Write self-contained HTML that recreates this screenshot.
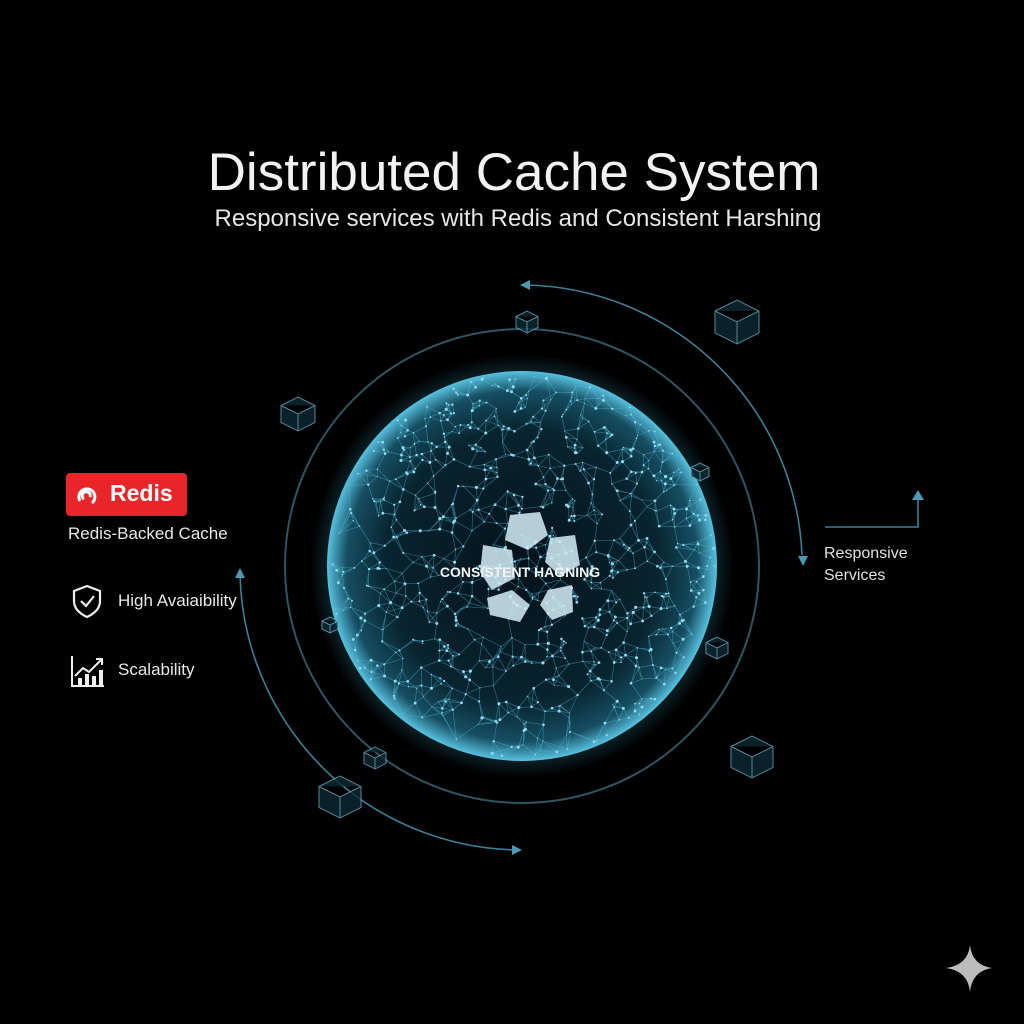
<!DOCTYPE html>
<html><head><meta charset="utf-8"><style>
body{margin:0;background:#000;width:1024px;height:1024px;overflow:hidden;font-family:"Liberation Sans",sans-serif;color:#eee}
.t{position:absolute;left:0;width:1024px;text-align:center}
</style></head><body>
<div class="t" style="top:142px;font-size:53px;color:#f2f2f2;left:2px">Distributed Cache System</div>
<div class="t" style="top:205px;font-size:24px;left:6px;color:#e6e6e6">Responsive services with Redis and Consistent Harshing</div>
<svg id="s" width="1024" height="1024" style="position:absolute;left:0;top:0">
<defs>
<radialGradient id="g" cx="50%" cy="50%" r="50%">
<stop offset="0" stop-color="#04121a"/><stop offset="0.7" stop-color="#08242f"/><stop offset="0.9" stop-color="#164e62"/><stop offset="1" stop-color="#58c2e0"/>
</radialGradient>
<radialGradient id="glow" cx="50%" cy="50%" r="50%"><stop offset="0.86" stop-color="#3fb4d4" stop-opacity="0.3"/><stop offset="1" stop-color="#3fb4d4" stop-opacity="0"/></radialGradient>
</defs>
<circle cx="522" cy="566" r="212" fill="url(#glow)"/>
<circle cx="522" cy="566" r="195" fill="url(#g)"/>
<g id="net" stroke="#4fb8d6" stroke-width="0.7" stroke-opacity="0.5"></g>
<g id="dots" fill="#8fdcf2"></g>
<circle cx="522" cy="566" r="237" fill="none" stroke="#2f5562" stroke-width="2"/>
<g fill="none" stroke="#3b7f96" stroke-width="1.6">
<path d="M525 285 A282 282 0 0 1 802 555"/>
<path d="M240 575 A282 282 0 0 0 518 850"/>
<path d="M825 527 H918 V497"/>
</g>
<g fill="#4a9ab4">
<polygon points="520,285 530,280 530,290"/>
<polygon points="798,556 808,556 803,566"/>
<polygon points="235,578 245,578 240,568"/>
<polygon points="512,845 512,855 522,850"/>
<polygon points="912,500 924,500 918,490"/>
</g>
<g fill="#d4eef7" opacity="0.85">
<polygon points="510,515 540,512 548,535 528,550 505,540"/>
<polygon points="550,538 575,535 580,565 560,576 545,562"/>
<polygon points="483,545 512,550 515,578 492,590 480,572"/>
<polygon points="548,590 572,585 573,612 552,620 540,605"/>
<polygon points="487,598 512,590 530,605 520,622 490,615"/>
</g>
<text x="520" y="577" text-anchor="middle" font-size="14" font-weight="bold" fill="#f4f4f4" font-family="Liberation Sans">CONSISTENT HAGNING</text>
<g fill="none" stroke="#6aa8bc" stroke-width="1" opacity="0.8" id="cubes"></g>
<path d="M970 945 Q972 965 992 968 Q972 971 970 992 Q968 971 946 968 Q968 965 970 945Z" fill="#bcbcbc"/>
</svg>
<div style="position:absolute;left:66px;top:473px;width:121px;height:43px;background:#e8262a;border-radius:4px"></div>
<svg style="position:absolute;left:76px;top:483px" width="26" height="24"><path d="M4 18 A8 8 0 1 1 16 20 M8 16 A4 4 0 1 1 14 14" fill="none" stroke="#fff" stroke-width="3"/></svg>
<div style="position:absolute;left:110px;top:480px;font-size:23px;font-weight:bold;color:#fff">Redis</div>
<div style="position:absolute;left:68px;top:524px;font-size:17px;color:#e8e8e8">Redis-Backed Cache</div>
<svg style="position:absolute;left:70px;top:583px" width="34" height="36"><path d="M17 3 L30 8 V18 Q30 28 17 34 Q4 28 4 18 V8Z" fill="none" stroke="#eee" stroke-width="2.2"/><path d="M11 18 L16 23 L24 13" fill="none" stroke="#eee" stroke-width="2.2"/></svg>
<div style="position:absolute;left:118px;top:591px;font-size:17px;color:#e8e8e8">High Avaiaibility</div>
<svg style="position:absolute;left:70px;top:654px" width="36" height="34"><path d="M2 2 V32 H34" fill="none" stroke="#eee" stroke-width="2"/><g fill="#eee"><rect x="8" y="24" width="4" height="7"/><rect x="15" y="20" width="4" height="11"/><rect x="22" y="22" width="4" height="9"/><rect x="29" y="16" width="4" height="15"/></g><path d="M5 22 L13 14 L19 18 L31 6 M26 5 H32 V11" fill="none" stroke="#eee" stroke-width="2"/></svg>
<div style="position:absolute;left:118px;top:660px;font-size:17px;color:#e8e8e8">Scalability</div>
<div style="position:absolute;left:824px;top:543px;font-size:16px;line-height:22px;color:#e0e0e0">Responsive<br>Services</div>
<script>
var ns="http://www.w3.org/2000/svg",cx=522,cy=566,R=193,pts=[];
var seed=7;function rnd(){seed=(seed*16807)%2147483647;return seed/2147483647;}
for(var i=0;i<900;i++){var a=rnd()*6.283,r=R*Math.sqrt(rnd());pts.push([cx+r*Math.cos(a),cy+r*Math.sin(a)]);}
var net=document.getElementById('net'),dots=document.getElementById('dots'),d="";
for(var i=0;i<pts.length;i++){var p=pts[i],best=[];for(var j=0;j<pts.length;j++){if(j==i)continue;var q=pts[j],dd=(p[0]-q[0])**2+(p[1]-q[1])**2;best.push([dd,j]);}
best.sort(function(a,b){return a[0]-b[0]});for(var k=0;k<4;k++){var q=pts[best[k][1]];d+="M"+p[0].toFixed(1)+" "+p[1].toFixed(1)+"L"+q[0].toFixed(1)+" "+q[1].toFixed(1);}
var c=document.createElementNS(ns,'circle');c.setAttribute('cx',p[0]);c.setAttribute('cy',p[1]);c.setAttribute('r',rnd()*1.2+0.4);dots.appendChild(c);}
var pa=document.createElementNS(ns,'path');pa.setAttribute('d',d);net.appendChild(pa);
var cubes=[[737,322,22],[298,414,17],[527,322,11],[340,797,21],[752,757,21],[375,758,11],[700,472,9],[717,648,11],[330,625,8]];
var cg=document.getElementById('cubes'),cd="";
cubes.forEach(function(c){var x=c[0],y=c[1],s=c[2],h=s*0.5;
cd+="M"+(x-s)+" "+(y-h)+"L"+x+" "+(y-s)+"L"+(x+s)+" "+(y-h)+"L"+(x+s)+" "+(y+h)+"L"+x+" "+(y+s)+"L"+(x-s)+" "+(y+h)+"Z M"+(x-s)+" "+(y-h)+"L"+x+" "+y+"L"+(x+s)+" "+(y-h)+"M"+x+" "+y+"V"+(y+s);});
var cp=document.createElementNS(ns,'path');cp.setAttribute('d',cd);cp.setAttribute('fill','#0d2a35');cg.appendChild(cp);
</script>
</body></html>
